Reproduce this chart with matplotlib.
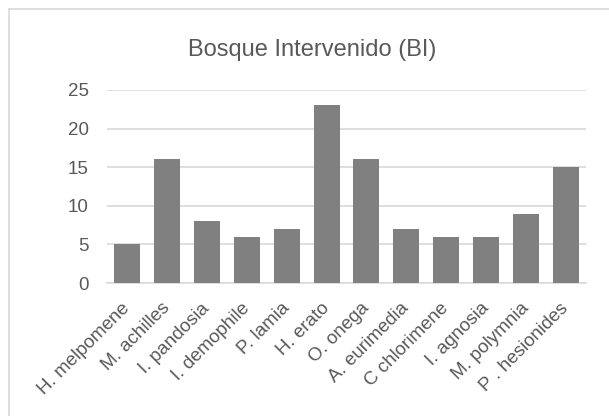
import matplotlib.pyplot as plt
import matplotlib.transforms as mtransforms
from matplotlib.lines import Line2D

# Species counts, Bosque Intervenido (BI)
species = ['H. melpomene', 'M. achilles', 'I. pandosia', 'I. demophile', 'P. lamia',
           'H. erato', 'O. onega', 'A. eurimedia', 'C chlorimene', 'I. agnosia',
           'M. polymnia', 'P . hesionides']
counts = [5, 16, 8, 6, 7, 23, 16, 7, 6, 6, 9, 15]
yticks = [0, 5, 10, 15, 20, 25]

TEXT = '#595959'
GRID = '#d9d9d9'
BAR = '#808080'

plt.rcParams['font.family'] = ['Liberation Sans', 'DejaVu Sans']

W, H = 609, 416
fig = plt.figure(figsize=(W / 100, H / 100), dpi=100)

# chart area border (cropped on right/bottom)
fig.add_artist(Line2D([9 / W, 1], [1 - 9 / H, 1 - 9 / H], transform=fig.transFigure,
                      color=GRID, lw=1.2))
fig.add_artist(Line2D([9 / W, 9 / W], [0, 1 - 9 / H], transform=fig.transFigure,
                      color=GRID, lw=1.2))

ax = fig.add_axes([107 / W, 1 - 283 / H, (586 - 107) / W, (283 - 90) / H])
x = range(len(species))
ax.bar(x, counts, width=0.65, color=BAR, zorder=3)

ax.set_ylim(0, 25)
ax.set_xlim(-0.5, len(species) - 0.5)
ax.set_yticks(yticks)
ax.yaxis.grid(True, color=GRID, lw=1.2, zorder=0)
ax.tick_params(axis='y', length=0, pad=13, labelsize=13.5, labelcolor=TEXT)
ax.tick_params(axis='x', length=0, pad=12, labelsize=13.5, labelcolor=TEXT)
ax.set_xticks(list(x))
ax.set_xticklabels(species, rotation=45, ha='right', rotation_mode='anchor')
shift = mtransforms.ScaledTranslation(-6 / 100, 0, fig.dpi_scale_trans)
for lbl in ax.get_xticklabels():
    lbl.set_transform(lbl.get_transform() + shift)
for s in ['top', 'right', 'left']:
    ax.spines[s].set_visible(False)
ax.spines['bottom'].set_color(GRID)
ax.spines['bottom'].set_linewidth(1.2)
ax.set_axisbelow(True)

fig.text(312 / W, 1 - 50 / H, 'Bosque Intervenido (BI)', ha='center', va='center',
         fontsize=17, color=TEXT)

fig.savefig('out.png', dpi=100)
